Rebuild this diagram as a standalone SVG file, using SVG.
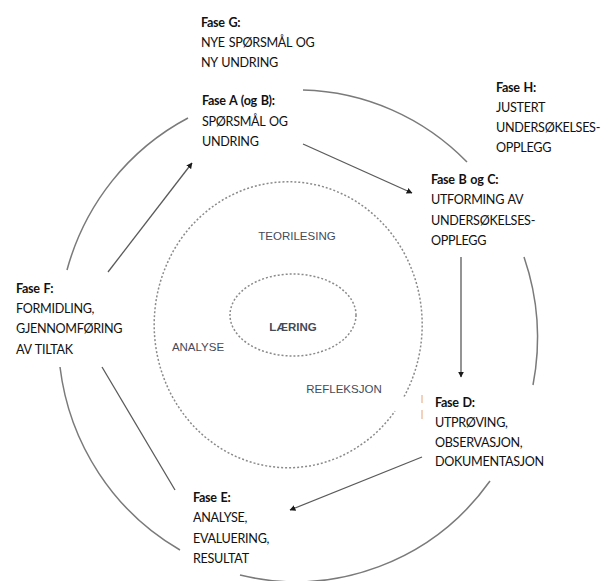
<svg xmlns="http://www.w3.org/2000/svg" width="609" height="581" viewBox="0 0 609 581">
<defs>
<style>
.ring{fill:none;stroke:#7a7a7a;stroke-width:1.5}
.dash{fill:none;stroke:#8a8a8a;stroke-width:1.5;stroke-dasharray:2 2}
.arr{fill:none;stroke:#5a5a5a;stroke-width:1.3}
.ph{font-family:Lato,"Liberation Sans",sans-serif;font-size:12.6px;letter-spacing:-0.3px;word-spacing:1px;fill:#111111}
.ph .b{font-weight:bold}
.c{font-family:"Liberation Sans",Arial,sans-serif;font-size:11.5px;fill:#434a5a;text-anchor:middle}
.tick{stroke:#e3a47a;stroke-width:1}
</style>
<marker id="ah" viewBox="0 0 10 10" refX="9" refY="5" markerWidth="6" markerHeight="6" orient="auto" markerUnits="userSpaceOnUse">
<path d="M0,0 L10,5 L0,10 z" fill="#1a1a1a"/>
</marker>
</defs>
<rect width="609" height="581" fill="#ffffff"/>

<g id="outer-ring">
<path class="ring" d="M303,90 A240,245 0 0,1 467,162"/>
<path class="ring" d="M524,257 A240,245 0 0,1 533,385"/>
<path class="ring" d="M490,481 A240,245 0 0,1 240,575"/>
<path class="ring" d="M180,550 A240,245 0 0,1 60,367"/>
<path class="ring" d="M67,270 A240,245 0 0,1 188,118"/>
</g>

<g id="middle-ring">
<path class="dash" d="M404.1,396.5 A134,143 0 1,0 395,411.1"/>
</g>
<g id="inner-ring">
<ellipse class="dash" cx="293" cy="315" rx="63" ry="41"/>
</g>

<g id="connectors">
<line class="arr" x1="108" y1="272" x2="192" y2="163" marker-end="url(#ah)"/>
<line class="arr" x1="303" y1="144" x2="412" y2="193" marker-end="url(#ah)"/>
<line class="arr" x1="461" y1="257" x2="461" y2="377" marker-end="url(#ah)"/>
<line class="arr" x1="422" y1="457" x2="290" y2="510" marker-end="url(#ah)"/>
<line class="arr" x1="102" y1="367" x2="175" y2="490"/>
</g>

<g id="center-labels">
<text class="c" x="297" y="240">TEORILESING</text>
<text class="c" x="293" y="331" font-weight="bold" font-size="12px">LÆRING</text>
<text class="c" x="198" y="351">ANALYSE</text>
<text class="c" x="344" y="393">REFLEKSJON</text>
</g>

<g id="fase-g" class="ph">
<text x="201" y="27" class="b">Fase G:</text>
<text x="201" y="47">NYE SPØRSMÅL OG</text>
<text x="201" y="67">NY UNDRING</text>
</g>
<g id="fase-a" class="ph">
<text x="202" y="105" class="b">Fase A (og B):</text>
<text x="202" y="126">SPØRSMÅL  OG</text>
<text x="202" y="146">UNDRING</text>
</g>
<g id="fase-h" class="ph">
<text x="496" y="92" class="b">Fase H:</text>
<text x="496" y="112">JUSTERT</text>
<text x="496" y="132">UNDERSØKELSES-</text>
<text x="496" y="152">OPPLEGG</text>
</g>
<g id="fase-bc" class="ph">
<text x="431" y="184" class="b">Fase B og C:</text>
<text x="431" y="204">UTFORMING  AV</text>
<text x="431" y="225">UNDERSØKELSES-</text>
<text x="431" y="245">OPPLEGG</text>
</g>
<g id="fase-d" class="ph">
<line class="tick" x1="422" y1="395" x2="422" y2="403"/>
<line class="tick" x1="422" y1="410" x2="422" y2="419"/>
<text x="435" y="407" class="b">Fase D:</text>
<text x="435" y="427">UTPRØVING,</text>
<text x="435" y="447">OBSERVASJON,</text>
<text x="435" y="466">DOKUMENTASJON</text>
</g>
<g id="fase-e" class="ph">
<text x="193" y="502" class="b">Fase E:</text>
<text x="193" y="522">ANALYSE,</text>
<text x="193" y="543">EVALUERING,</text>
<text x="193" y="563">RESULTAT</text>
</g>
<g id="fase-f" class="ph">
<text x="16" y="293" class="b">Fase F:</text>
<text x="16" y="313">FORMIDLING,</text>
<text x="16" y="333">GJENNOMFØRING</text>
<text x="16" y="354">AV TILTAK</text>
</g>
</svg>
